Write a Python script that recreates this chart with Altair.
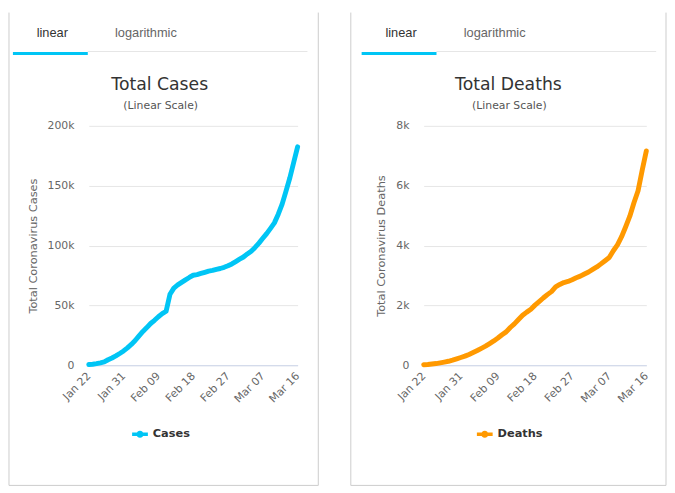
import altair as alt
import pandas as pd

# ---------------- data ----------------
dates = pd.date_range("2020-01-22", "2020-03-16", freq="D")
categories = [d.strftime("%b %d") for d in dates]

cases = [580, 845, 1317, 2015, 2800, 4581, 6058, 7813, 9823, 11950,
         14553, 17391, 20630, 24545, 28266, 31439, 34876, 37552, 40553, 43099,
         45134, 59287, 64438, 67100, 69197, 71329, 73332, 75184, 75700, 76677,
         77673, 78651, 79205, 80087, 80828, 81820, 83112, 84615, 86604, 88585,
         90443, 93016, 95314, 98425, 102050, 106099, 109991, 114381, 118948, 126214,
         134576, 145483, 156653, 169593, 182490]

deaths = [17, 25, 41, 56, 80, 106, 132, 170, 213, 259,
          304, 362, 426, 492, 565, 638, 724, 813, 910, 1018,
          1115, 1261, 1383, 1526, 1669, 1775, 1873, 2009, 2126, 2247,
          2360, 2460, 2618, 2699, 2763, 2800, 2858, 2923, 2977, 3050,
          3117, 3202, 3285, 3387, 3494, 3599, 3827, 4025, 4296, 4628,
          4981, 5428, 5833, 6520, 7162]

x_tick_labels = ["Jan 22", "Jan 31", "Feb 09", "Feb 18", "Feb 27", "Mar 07", "Mar 16"]
cases_ticks = [0, 50000, 100000, 150000, 200000]
deaths_ticks = [0, 2000, 4000, 6000, 8000]

FONT = "DejaVu Sans"
TAB_FONT = "Liberation Sans"

LEGEND_SYMBOL = ("M-1,-0.22L1,-0.22L1,0.22L-1,0.22Z "
                 "M0.45,0A0.45,0.45,0,1,1,-0.45,0A0.45,0.45,0,1,1,0.45,0Z")


def one():
    return alt.Data(values=[{"k": 0}])


def vrule(x, y1, y2, color="#cccccc", width=1):
    return alt.Chart(one()).mark_rule(color=color, strokeWidth=width).encode(
        x=alt.value(x), y=alt.value(y1), y2=alt.value(y2))


def hrule(y, x1, x2, color="#cccccc", width=1):
    return alt.Chart(one()).mark_rule(color=color, strokeWidth=width).encode(
        y=alt.value(y), x=alt.value(x1), x2=alt.value(x2))


def label(text, x, y, size, color, font=FONT, weight="normal"):
    return alt.Chart(one()).mark_text(
        text=text, font=font, fontSize=size, color=color, fontWeight=weight,
        align="center", baseline="alphabetic").encode(x=alt.value(x), y=alt.value(y))


def panel(values, series, color, ytitle, yticks, ymax, title, W, H, g):
    df = pd.DataFrame({"date": categories, "value": values, "series": series})
    line = alt.Chart(df).mark_line(
        strokeWidth=5, strokeCap="round", strokeJoin="round"
    ).encode(
        x=alt.X("date:O", sort=categories, title=None,
                scale=alt.Scale(type="point", padding=0),
                axis=alt.Axis(values=x_tick_labels, labelAngle=315, labelAlign="right",
                              labelBaseline="middle", labelPadding=9, ticks=False,
                              domainColor="#ccd6eb", grid=False, labelFont=FONT,
                              labelFontSize=11, labelColor="#666666")),
        y=alt.Y("value:Q", title=ytitle,
                scale=alt.Scale(domain=[0, ymax], nice=False),
                axis=alt.Axis(values=yticks, domain=False, ticks=False, grid=True,
                              gridColor="#e6e6e6", labelPadding=15,
                              labelExpr="datum.value == 0 ? '0' : format(datum.value / 1000, 'd') + 'k'",
                              labelFont=FONT, labelFontSize=11, labelColor="#666666",
                              titleFont=FONT, titleFontSize=11.5, titleFontWeight="normal",
                              titleColor="#666666", titlePadding=9)),
        color=alt.Color("series:N",
                        scale=alt.Scale(domain=[series], range=[color]),
                        legend=alt.Legend(orient="none", legendX=g["legx"], legendY=305,
                                          title=None, symbolType=LEGEND_SYMBOL,
                                          symbolSize=256, symbolFillColor=color,
                                          symbolStrokeColor=color, symbolStrokeWidth=0,
                                          labelFont=FONT, labelFontSize=11.5,
                                          labelFontWeight="bold", labelColor="#333333",
                                          labelOffset=5, padding=0)),
    )
    decor = [
        vrule(g["bl"], -115, 365),
        vrule(g["br"], -115, 365),
        hrule(365, g["bl"], g["br"]),
        hrule(-75.5, g["ul"][1], g["gray_end"], color="#e6e6e6"),
        hrule(-73.5, g["ul"][0], g["ul"][1], color="#00c5f5", width=3),
        label("linear", g["lin"], -90, 13, "#333333", font=TAB_FONT),
        label("logarithmic", g["log"], -90, 13, "#666666", font=TAB_FONT),
        label(title, g["tx"], -36, 17.5, "#333333"),
        label("(Linear Scale)", g["tx"] + 1, -17, 11, "#555555"),
    ]
    return alt.layer(line, *decor).properties(width=W, height=H)


left = panel(cases, "Cases", "#00c5f5", "Total Coronavirus Cases", cases_ticks, 200000,
             "Total Cases", 212, 243,
             {"bl": -81, "br": 233, "ul": (-77, -1), "gray_end": 222,
              "lin": -37, "log": 58, "tx": 72, "legx": 44})

right = panel(deaths, "Deaths", "#ff9900", "Total Coronavirus Deaths", deaths_ticks, 8000,
              "Total Deaths", 226, 243,
              {"bl": -74, "br": 246, "ul": (-63, 13), "gray_end": 236,
               "lin": -23, "log": 72, "tx": 86, "legx": 54})

chart = alt.hconcat(left, right, spacing=31).properties(
    padding=0, background="white"
).configure_view(stroke=None).resolve_scale(color="independent")

chart.save("out.html", embed_options={"renderer": "svg", "actions": False})
